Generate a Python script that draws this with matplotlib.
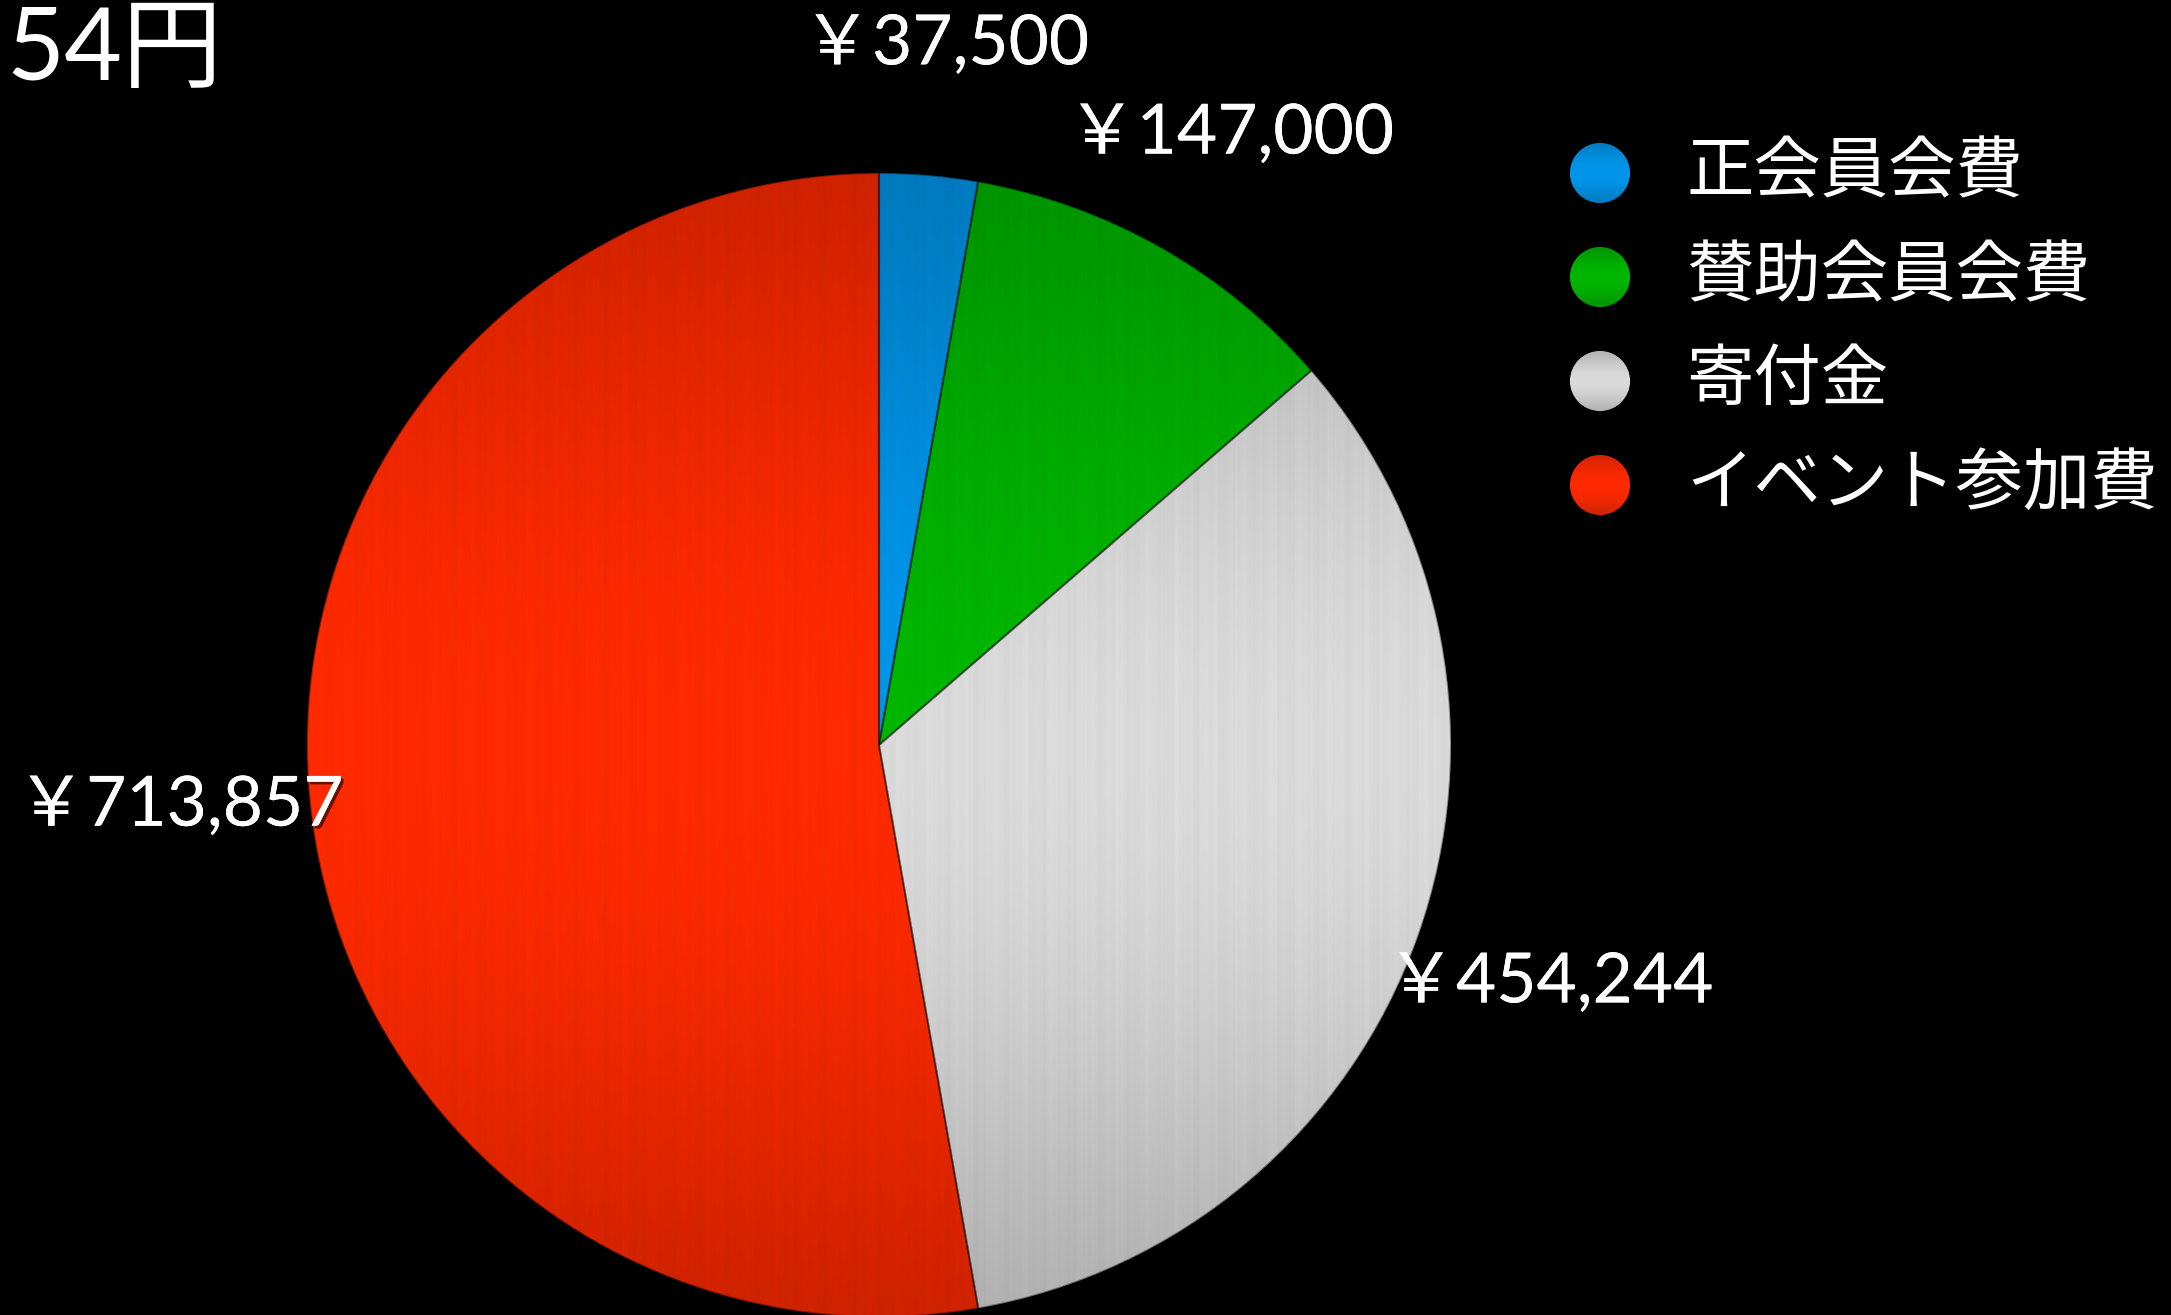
import numpy as np
import matplotlib
matplotlib.use("Agg")
import matplotlib.pyplot as plt
from matplotlib.patches import Ellipse
import matplotlib.patheffects as pe

plt.rcParams['font.family'] = ['Noto Sans CJK JP', 'DejaVu Sans']

# ---- data ----
categories = ['正会員会費', '賛助会員会費', '寄付金', 'イベント参加費']
values = [37500, 147000, 454244, 713857]
value_labels = ['￥37,500', '￥147,000', '￥454,244', '￥713,857']
title_text = '54円'

# ---- style ----
base_colors = [(0, 150, 235), (0, 182, 0), (218, 218, 218), (255, 42, 0)]
label_pos = [(0.117, 1.224), (0.615, 1.068), (1.173, -0.416), (-1.222, -0.107)]
label_font = ['Lato', 'Noto Sans CJK JP']

W, H = 2171, 1315
fig = plt.figure(figsize=(W / 100, H / 100), dpi=100)
fig.patch.set_facecolor('black')

# pie axes: center (879, 745 from top), radius 572 px
cx, cy, r = 879, H - 745, 572
ax = fig.add_axes([(cx - r) / W, (cy - r) / H, 2 * r / W, 2 * r / H])
ax.set_facecolor('black')

wedges, _ = ax.pie(values, startangle=90, counterclock=False, radius=1,
                   wedgeprops=dict(linewidth=0))

# brushed-metal streak pattern (deterministic, purely decorative)
NX = 600
xs = np.linspace(0, 1, NX)
streak = np.zeros(NX)
for k, (fq, ph) in enumerate([(37, 0.3), (83, 1.1), (151, 2.0), (229, 0.7), (311, 2.9), (97, 1.7)]):
    streak += np.sin(2 * np.pi * fq * xs + ph) / (1 + 0.3 * k)
streak = 1 + 0.025 * streak / np.abs(streak).max()


def gradient(base, n=256, texture=True):
    y = np.linspace(-1, 1, n)
    f = 0.81 + 0.19 * np.cos(y * np.pi / 2) ** 1.2
    rgb = np.array(base, dtype=float)[None, None, :] / 255.0 * f[:, None, None]
    if texture:
        rgb = rgb * streak[None, :, None]
    else:
        rgb = np.repeat(rgb, 2, axis=1)
    return np.clip(rgb, 0, 1)


for w, c in zip(wedges, base_colors):
    w.set_facecolor('none')
    w.set_edgecolor((0, 0, 0, 0.35))
    w.set_linewidth(1.5)
    w.set_zorder(3)
    im = ax.imshow(gradient(c), extent=(-1, 1, -1, 1), origin='lower',
                   interpolation='bilinear', zorder=2, aspect='auto')
    im.set_clip_path(w)

ax.set_xlim(-1, 1)
ax.set_ylim(-1, 1)
ax.set_aspect('equal')
ax.axis('off')

shadow = [pe.withSimplePatchShadow(offset=(2, -2), shadow_rgbFace='black', alpha=0.6), pe.Normal()]
for lab, (lx, ly) in zip(value_labels, label_pos):
    ax.text(lx, ly, lab, color='white', fontsize=50, ha='center', va='center',
            family=label_font, fontweight='normal', clip_on=False,
            path_effects=shadow, zorder=10)

# title (partially visible)
fig.text(6 / W, 1 - 80 / H, title_text, color='white', fontsize=72,
         ha='left', va='baseline', family=['Lato', 'Noto Sans CJK JP'])

# legend
leg_y = [173, 277, 381, 485]
for cat, c, yy in zip(categories, base_colors, leg_y):
    lax = fig.add_axes([(1600 - 31) / W, 1 - (yy + 31) / H, 62 / W, 62 / H])
    lax.axis('off')
    e = Ellipse((0.5, 0.5), 0.97, 0.97, transform=lax.transAxes, facecolor='none',
                edgecolor='none')
    lax.add_patch(e)
    im = lax.imshow(gradient(c, texture=False), extent=(0, 1, 0, 1), origin='lower',
                    interpolation='bilinear', aspect='auto', transform=lax.transAxes)
    im.set_clip_path(e)
    lax.set_xlim(0, 1)
    lax.set_ylim(0, 1)
    fig.text(1686 / W, 1 - yy / H, cat, color='white', fontsize=48.5,
             ha='left', va='center')

fig.savefig('out.png', dpi=100, facecolor='black')
